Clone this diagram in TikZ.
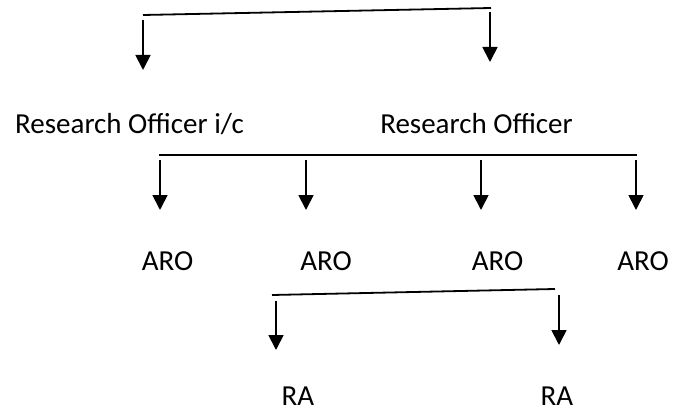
\documentclass[tikz,border=0pt]{standalone}
\usepackage{fontspec}
\setmainfont{Carlito}
\usetikzlibrary{arrows.meta}
\begin{document}
\begin{tikzpicture}[x=1pt,y=-1pt,
  bar/.style={line width=1.8pt},
  down/.style={line width=1.8pt,-{Triangle[width=15pt,length=15pt]}},
  lbl/.style={anchor=base,inner sep=0pt,font=\fontsize{29}{34}\selectfont}]
\useasboundingbox (0,0) rectangle (673,412);
% labels
\node[lbl] (roic) at (129.5,134) {Research Officer i/c};
\node[lbl] (ro)   at (476.5,134) {Research Officer};
\node[lbl] (aro1) at (167.5,270) {ARO};
\node[lbl] (aro2) at (326,270) {ARO};
\node[lbl] (aro3) at (497.5,270) {ARO};
\node[lbl] (aro4) at (643,270) {ARO};
\node[lbl] (ra1)  at (298,405) {RA};
\node[lbl] (ra2)  at (557,405) {RA};
% top level
\coordinate (t1) at (143,15);
\coordinate (t2) at (491,8);
\coordinate (ta1) at (143,20);
\coordinate (tb1) at (143,70);
\coordinate (ta2) at (490,12);
\coordinate (tb2) at (490,62);
\draw[bar] (t1) -- (t2);
\draw[down] (ta1) -- (tb1);
\draw[down] (ta2) -- (tb2);
% second level
\coordinate (m1) at (159,155);
\coordinate (m2) at (637,155);
\draw[bar] (m1) -- (m2);
\foreach \x/\n in {160/1,306/2,481/3,636/4}{
  \coordinate (ma\n) at (\x,160);
  \coordinate (mb\n) at (\x,210);
  \draw[down] (ma\n) -- (mb\n);
}
% third level
\coordinate (b1) at (272,295);
\coordinate (b2) at (555,289);
\coordinate (ba1) at (276,301);
\coordinate (bb1) at (276,350);
\coordinate (ba2) at (559,295);
\coordinate (bb2) at (559,345);
\draw[bar] (b1) -- (b2);
\draw[down] (ba1) -- (bb1);
\draw[down] (ba2) -- (bb2);
\end{tikzpicture}
\end{document}
